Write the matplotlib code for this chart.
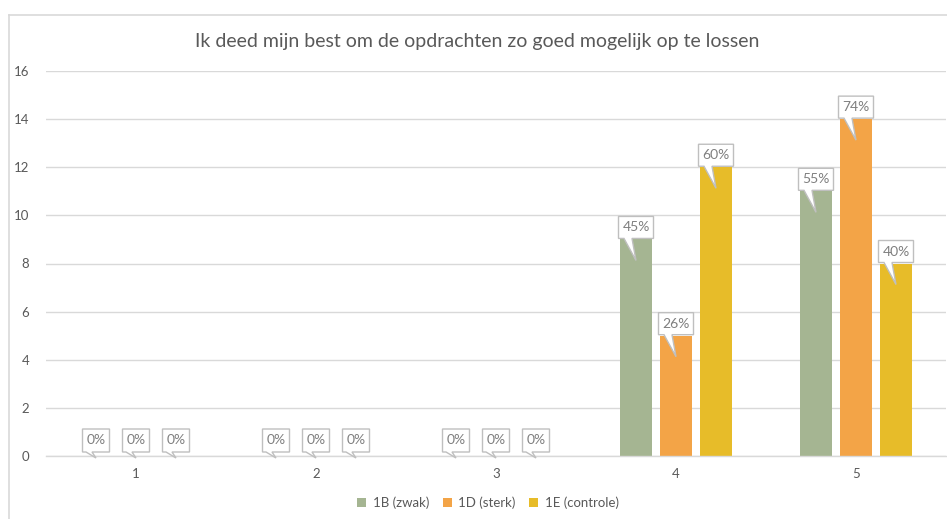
import numpy as np
import matplotlib.pyplot as plt
from matplotlib.patches import Polygon
from matplotlib.lines import Line2D

plt.rcParams['font.family'] = ['Lato', 'DejaVu Sans']

# 数据：每个选项的人数，以及各班总人数（百分比 = 人数 / 总人数）
categories = ['1', '2', '3', '4', '5']
series_names = ['1B (zwak)', '1D (sterk)', '1E (controle)']
counts_1b = [0, 0, 0, 9, 11]
counts_1d = [0, 0, 0, 5, 14]
counts_1e = [0, 0, 0, 12, 8]
class_sizes = [20, 19, 20]
y_ticks = [0, 2, 4, 6, 8, 10, 12, 14, 16]

colors = ['#A5B592', '#F3A447', '#E7BC29']
text_grey = '#595959'
label_grey = '#7F7F7F'
line_grey = '#D9D9D9'

W, H = 947, 519
fig = plt.figure(figsize=(W / 100, H / 100), dpi=100)
ax = fig.add_axes([46 / W, 63 / H, 900 / W, 385 / H])

x = np.arange(len(categories))
bar_w = 32 / 180
step = 40 / 180
all_counts = [counts_1b, counts_1d, counts_1e]

for i, (vals, col, name) in enumerate(zip(all_counts, colors, series_names)):
    ax.bar(x + (i - 1) * step, vals, width=bar_w, color=col, label=name, zorder=2)

ax.set_xlim(-0.5, len(categories) - 0.5)
ax.set_ylim(0, 16)
ax.set_yticks(y_ticks)
ax.set_xticks(x)
ax.set_xticklabels(categories)
ax.tick_params(length=0, colors=text_grey, labelsize=9.5)
ax.tick_params(axis='y', pad=12)
ax.tick_params(axis='x', pad=9)
ax.grid(axis='y', color=line_grey, linewidth=1, zorder=0)
ax.set_axisbelow(True)
for s in ['top', 'right', 'left']:
    ax.spines[s].set_visible(False)
ax.spines['bottom'].set_color(line_grey)
ax.spines['bottom'].set_linewidth(1)

fig.text(477 / W, 1 - 42 / H, 'Ik deed mijn best om de opdrachten zo goed mogelijk op te lossen',
         ha='center', va='center', fontsize=14, color=text_grey)

# 图表外框
fig.add_artist(Line2D([9 / W, 9 / W], [0, 1 - 15 / H], transform=fig.transFigure,
                      color=line_grey, linewidth=1.2))
fig.add_artist(Line2D([9 / W, 1], [1 - 15 / H, 1 - 15 / H], transform=fig.transFigure,
                      color=line_grey, linewidth=1.2))


def callout(ax, xc, val, text):
    # 在像素坐标下绘制带尖角的标注框
    px, py = ax.transData.transform((xc, val))
    if val > 0:
        w, h = 35, 22
        bottom = py + 1
        tip = (px, py - 21)
        a, b = px - 12, px - 4
    else:
        w, h = 27, 23
        bottom = py + 4
        tip = (px, py - 2)
        a, b = px - 10, px - 4
    left, right, top = px - w / 2, px + w / 2, bottom + h
    verts = [(left, bottom), (a, bottom), tip, (b, bottom), (right, bottom),
             (right, top), (left, top)]
    poly = Polygon(verts, closed=True, facecolor='white', edgecolor='#BFBFBF',
                   linewidth=1, transform=None, zorder=4)
    fig.add_artist(poly)
    fig.text(px / W, (bottom + h / 2) / H, text, ha='center', va='center',
             fontsize=10, color=label_grey, zorder=5)


for i, vals in enumerate(all_counts):
    for j, v in enumerate(vals):
        pct = round(v / class_sizes[i] * 100)
        callout(ax, x[j] + (i - 1) * step, v, f'{pct}%')

fig.legend(loc='center', bbox_to_anchor=(488 / W, 1 - 503 / H), ncol=3, frameon=False,
           fontsize=9.5, handlelength=0.7, handleheight=0.7, handletextpad=0.5,
           columnspacing=1.0, labelcolor=text_grey)

fig.savefig('out.png', dpi=100)
